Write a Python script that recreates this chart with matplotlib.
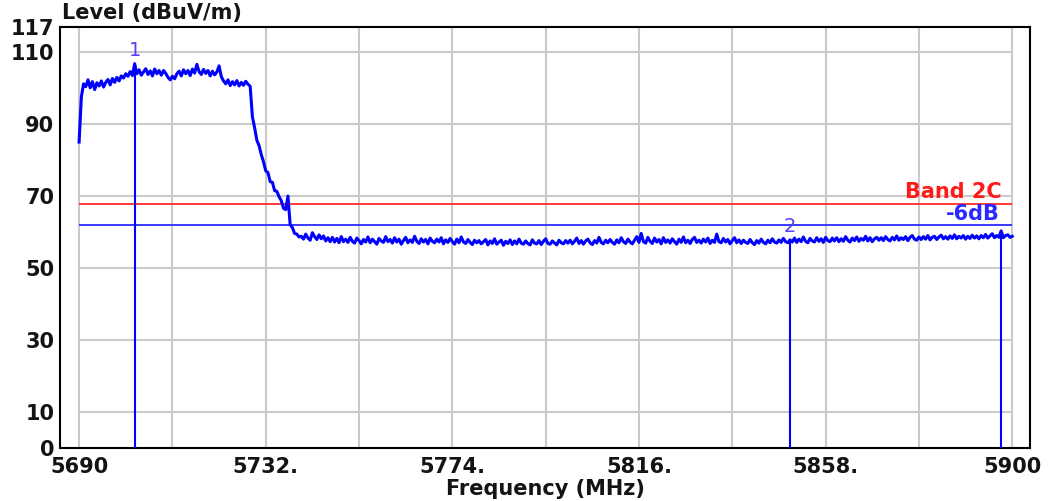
import numpy as np
import matplotlib
matplotlib.use("Agg")
import matplotlib.pyplot as plt

# ---------------- data ----------------
f_start, f_stop, f_step = 5690.0, 5900.0, 0.5   # sweep grid (MHz)

level = [
    # 5690.0 - 5699.5
    85.0, 97.5, 101.2, 100.4, 102.3, 100.1, 101.8, 99.6, 101.5, 100.6, 102.0, 100.3, 101.6, 102.4, 100.9, 102.7, 101.6, 103.0, 102.0, 103.4,
    # 5700.0 - 5709.5
    102.8, 104.0, 103.3, 104.6, 103.5, 106.8, 104.0, 105.1, 103.6, 104.5, 105.4, 103.8, 104.8, 103.4, 105.3, 104.0, 104.9, 103.6, 104.9, 104.1,
    # 5710.0 - 5719.5
    103.0, 102.3, 103.3, 102.6, 104.0, 104.7, 103.4, 105.1, 104.0, 104.9, 103.5, 105.3, 104.2, 106.6, 104.6, 103.8, 105.2, 104.1, 104.9, 103.4,
    # 5720.0 - 5729.5
    104.7, 103.7, 104.5, 106.2, 103.2, 102.0, 101.2, 102.3, 100.7, 101.8, 100.9, 102.1, 100.6, 101.6, 100.8, 101.9, 101.1, 100.5, 92.0, 89.0,
    # 5730.0 - 5739.5
    85.5, 84.0, 81.5, 79.5, 77.0, 76.5, 74.0, 73.8, 71.5, 71.3, 69.8, 68.7, 66.6, 66.2, 70.0, 62.0, 61.2, 59.6, 59.4, 58.6,
    # 5740.0 - 5749.5
    58.8, 58.0, 59.4, 58.3, 57.7, 59.8, 58.7, 57.9, 59.2, 58.1, 58.9, 57.5, 58.4, 57.3, 58.5, 57.2, 58.2, 57.0, 58.7, 57.3,
    # 5750.0 - 5759.5
    58.0, 57.1, 58.5, 57.4, 56.9, 58.3, 57.6, 56.7, 57.9, 57.2, 58.6, 57.0, 58.0, 57.3, 56.6, 58.2, 57.5, 57.1, 58.7, 57.3,
    # 5760.0 - 5769.5
    57.9, 56.9, 58.4, 57.2, 58.0, 56.6, 57.6, 58.5, 57.0, 57.8, 57.1, 58.8, 57.4, 56.8, 58.1, 57.2, 57.9, 56.7, 58.3, 57.4,
    # 5770.0 - 5779.5
    57.0, 58.0, 57.2, 58.4, 56.7, 57.8, 57.1, 58.2, 57.3, 56.6, 58.0, 57.0, 58.6, 57.2, 56.8, 57.9, 57.1, 56.5, 57.7, 57.0,
    # 5780.0 - 5789.5
    57.6, 56.7, 57.3, 57.9, 56.4, 57.5, 56.8, 58.1, 56.6, 57.2, 57.7, 56.3, 57.4, 56.8, 57.8, 56.5, 57.5, 56.7, 58.0, 56.9,
    # 5790.0 - 5799.5
    56.6, 57.5, 56.8, 56.4, 57.8, 56.9, 56.7, 57.6, 56.5, 57.4, 58.1, 56.8, 56.6, 57.5, 56.9, 56.4, 57.7, 57.0, 56.7, 57.6,
    # 5800.0 - 5809.5
    56.9, 57.7, 56.7, 57.4, 58.3, 56.8, 57.6, 56.6, 57.5, 58.0, 57.0, 56.5, 57.6, 56.9, 58.5, 57.1, 56.7, 57.7, 57.0, 57.9,
    # 5810.0 - 5819.5
    57.1, 56.6, 57.8, 57.0, 58.4, 57.3, 56.8, 58.0, 57.2, 56.7, 57.7, 58.7, 57.1, 59.6, 57.3, 56.9, 58.5, 57.4, 56.8, 58.3,
    # 5820.0 - 5829.5
    57.2, 57.9, 56.7, 58.4, 57.1, 57.8, 56.9, 58.1, 57.3, 56.6, 58.0, 57.1, 58.6, 57.0, 57.7, 56.8, 57.9, 58.5, 57.1, 57.7,
    # 5830.0 - 5839.5
    56.9, 58.0, 57.2, 58.3, 56.8, 57.7, 57.1, 59.4, 57.3, 57.0, 58.2, 57.2, 57.9, 56.7, 57.6, 58.4, 57.0, 57.8, 56.8, 57.7,
    # 5840.0 - 5849.5
    57.1, 56.8, 57.9, 57.0, 56.5, 57.6, 56.9, 58.0, 57.1, 56.7, 57.7, 57.0, 58.1, 57.2, 56.9, 57.8, 57.1, 58.2, 57.3, 57.0,
    # 5850.0 - 5859.5
    57.8, 57.2, 58.3, 57.1, 58.0, 57.3, 58.6, 57.4, 57.0, 58.2, 57.5, 57.2, 58.4, 57.4, 58.1, 57.1, 58.5, 57.6, 57.3, 58.3,
    # 5860.0 - 5869.5
    57.5, 58.4, 57.3, 58.1, 57.4, 58.7, 57.7, 57.2, 58.3, 57.6, 58.6, 57.4, 58.2, 57.7, 58.8, 57.5, 58.4, 57.3, 58.1, 58.5,
    # 5870.0 - 5879.5
    57.7, 58.4, 57.6, 58.7, 57.9, 57.5, 58.5, 57.8, 58.9, 57.7, 58.4, 57.9, 58.7, 57.6, 58.5, 59.0, 58.0, 57.7, 58.6, 57.9,
    # 5880.0 - 5889.5
    58.7, 58.0, 59.0, 57.8, 58.5, 58.8, 57.9, 58.6, 59.1, 58.1, 58.7, 58.0, 58.9, 58.2, 59.2, 58.1, 58.8, 58.3, 59.0, 58.0,
    # 5890.0 - 5899.5
    58.8, 58.2, 59.1, 58.3, 58.9, 58.1, 59.0, 58.4, 59.3, 58.3, 58.9, 59.5, 58.4, 59.0, 58.5, 60.3, 58.4, 59.0, 59.2, 58.5,
    # 5900.0
    58.8,
]

band_limit = 67.8          # "Band 2C" limit line (dBuV/m)
minus6_level = 61.8        # "-6dB" line
limit_labels = ["Band 2C", "-6dB"]

marker_freqs = [5702.5, 5850.0, 5897.5]
marker_labels = ["1", "2", "3"]

x_ticks = [5690, 5732, 5774, 5816, 5858, 5900]
x_tick_labels = ["5690", "5732.", "5774.", "5816.", "5858.", "5900"]
y_ticks = [0, 10, 30, 50, 70, 90, 110, 117]
y_tick_labels = ["0", "10", "30", "50", "70", "90", "110", "117"]
x_grid = [5690, 5711, 5732, 5753, 5774, 5795, 5816, 5837, 5858, 5879, 5900]
y_grid = [10, 30, 50, 70, 90, 110]

# ---------------- figure ----------------
freq = np.linspace(f_start, f_stop, len(level))
level = np.array(level)

fig = plt.figure(figsize=(10.51, 5.01), dpi=100)
ax = fig.add_axes([60 / 1051, 1 - 447.7 / 501, 970 / 1051, 420.7 / 501])
ax.set_xlim(5685.7, 5904.0)
ax.set_ylim(0, 117)

grid_c = "#cacaca"
ax.vlines(x_grid, 0, 117, colors=grid_c, lw=1.5, zorder=1)
ax.hlines(y_grid, x_grid[0], x_grid[-1], colors=grid_c, lw=1.5, zorder=1)

# limit lines
ax.hlines(band_limit, f_start, f_stop, colors="#ff2a2a", lw=1.3, zorder=2)
ax.hlines(minus6_level, f_start, f_stop, colors="#2a2aff", lw=1.3, zorder=2)

ax.text(5897.7, band_limit + 1.6, limit_labels[0], color="#ff1a1a",
        fontsize=15, fontweight="bold", ha="right", va="baseline", zorder=5)
ax.text(5897.3, minus6_level + 1.4, limit_labels[1], color="#2a2aff",
        fontsize=15, fontweight="bold", ha="right", va="baseline", zorder=5)

# trace
ax.plot(freq, level, color="#0000ff", lw=2.2, zorder=3)

# markers
for mf, ml in zip(marker_freqs, marker_labels):
    mv = np.interp(mf, freq, level)
    ax.vlines(mf, 0, mv, colors="#0000ff", lw=1.5, zorder=3)
    if ml != "3":
        ax.text(mf, mv + 1.0, ml, color="#5a3cff", fontsize=14,
                ha="center", va="bottom", zorder=4)

# axes styling
for s in ax.spines.values():
    s.set_color("black")
    s.set_linewidth(1.5)
ax.set_xticks(x_ticks)
ax.set_xticklabels(x_tick_labels)
ax.set_yticks(y_ticks)
ax.set_yticklabels(y_tick_labels)
ax.tick_params(axis="both", length=0, labelsize=15, labelcolor="#141414")
ax.tick_params(axis="x", pad=7)
ax.tick_params(axis="y", pad=4)
for lab in ax.get_xticklabels() + ax.get_yticklabels():
    lab.set_fontweight("bold")

fig.text(62 / 1051, 1 - 19.5 / 501, "Level (dBuV/m)", fontsize=15,
         fontweight="bold", color="#141414", ha="left", va="baseline")
fig.text(545 / 1051, 6 / 501, "Frequency (MHz)", fontsize=15,
         fontweight="bold", color="#141414", ha="center", va="baseline")

fig.savefig("out.png", dpi=100)
